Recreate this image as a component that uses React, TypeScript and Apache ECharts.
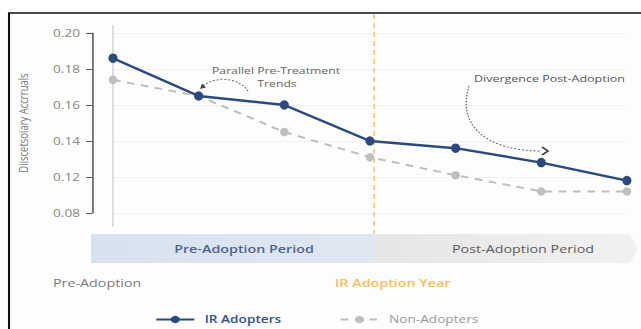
import React, { useEffect, useRef } from "react";
import * as echarts from "echarts";

// ---- data ----
const xIndex = [0, 1, 2, 3, 4, 5, 6];
const irAdopters = [0.186, 0.165, 0.16, 0.14, 0.136, 0.128, 0.118];
const nonAdopters = [0.174, 0.165, 0.145, 0.131, 0.121, 0.112, 0.112];
const yTickLabels = ["0.08", "0.12", "0.14", "0.16", "0.18", "0.20"];
const ADOPTION_X = 3.05;
const yTitle = "Diiscetsoiary Accrruals";

// horizontal stretch of the whole picture
const S = 1.3;
const W = 641 / S;
const H = 329;
const X = (px: number) => px / S;
const FONT = "'Open Sans', sans-serif";

export default function App() {
  const ref = useRef<HTMLDivElement>(null);
  useEffect(() => {
    if (!ref.current) return;
    const chart = echarts.init(ref.current, null, { renderer: "svg" });
    const option: any = {
      animation: false,
      backgroundColor: "#ffffff",
      textStyle: { fontFamily: FONT },
      grid: { left: X(113), right: W - X(627), top: 33, bottom: H - 213 },
      xAxis: {
        type: "value",
        min: 0,
        max: 6,
        show: false,
        splitLine: { show: false },
      },
      yAxis: {
        type: "value",
        min: 0.1,
        max: 0.2,
        interval: 0.02,
        offset: X(113 - 92),
        name: yTitle,
        nameLocation: "middle",
        nameGap: 48,
        nameTextStyle: { color: "#777", fontSize: 9.5, fontFamily: FONT },
        axisLine: { show: true, onZero: false, lineStyle: { color: "#555", width: 1.2 } },
        axisTick: { show: true, length: X(6), lineStyle: { color: "#555" } },
        axisLabel: {
          color: "#888",
          fontSize: 10.5,
          fontFamily: FONT,
          margin: X(12),
          formatter: (_v: number, i: number) => yTickLabels[i],
        },
        splitLine: { show: true, lineStyle: { color: "#f1f1f1", width: 1 } },
      },
      legend: {
        left: X(155),
        top: 314,
        padding: 0,
        itemWidth: X(38),
        itemHeight: 9,
        itemGap: X(58),
        data: [
          {
            name: "IR Adopters",
            textStyle: { color: "#34508a", fontWeight: 600, fontSize: 10.5, padding: [0, 0, 0, 3] },
          },
          {
            name: "Non-Adopters",
            textStyle: { color: "#9a9a9a", fontSize: 10.5, padding: [0, 0, 0, 3] },
          },
        ],
        textStyle: { fontFamily: FONT },
      },
      series: [
        {
          name: "Non-Adopters",
          type: "line",
          data: xIndex.map((x, i) => [x, nonAdopters[i]]),
          symbol: "circle",
          symbolSize: [6.5, 8.5],
          lineStyle: { color: "#bfbfbf", width: 2, type: [6, 5] },
          itemStyle: { color: "#bfbfbf" },
          z: 2,
        },
        {
          name: "IR Adopters",
          type: "line",
          data: xIndex.map((x, i) => [x, irAdopters[i]]),
          symbol: "circle",
          symbolSize: [7, 9.5],
          lineStyle: { color: "#2d4a7f", width: 2.4 },
          itemStyle: { color: "#2d4a7f" },
          z: 3,
        },
      ],
    };
    chart.setOption(option);

    const x0 = chart.convertToPixel({ gridIndex: 0 } as any, [0, 0.15])[0];
    const xa = chart.convertToPixel({ gridIndex: 0 } as any, [ADOPTION_X, 0.15])[0];
    const bandTop = 234;
    const bandBot = 263;
    const bandMid = (bandTop + bandBot) / 2;

    const txt = (text: string, x: number, y: number, style: any, align = "left") => ({
      type: "text",
      x,
      y,
      style: { text, fontFamily: FONT, align, verticalAlign: "middle", ...style },
      z: 20,
    });

    chart.setOption({
      graphic: [
        {
          type: "rect",
          shape: { x: X(9), y: 13, width: W, height: H },
          style: { fill: "#fdfdfd", stroke: "#111", lineWidth: 1.6 },
          z: -10,
          silent: true,
        },
        {
          type: "line",
          shape: { x1: x0, y1: 25, x2: x0, y2: 227 },
          style: { stroke: "#d2d2d2", lineWidth: 1.1 },
          z: 1,
        },
        {
          type: "line",
          shape: { x1: xa, y1: 14, x2: xa, y2: bandTop },
          style: { stroke: "#f4c86e", lineWidth: 1.2, lineDash: [5, 4] },
          z: 1,
        },
        {
          type: "rect",
          shape: { x: X(91), y: bandTop, width: xa - X(91), height: bandBot - bandTop },
          style: {
            fill: new echarts.graphic.LinearGradient(0, 0, 1, 0, [
              { offset: 0, color: "#d8e2ef" },
              { offset: 1, color: "#dfe7f2" },
            ]),
          },
          z: 5,
        },
        {
          type: "polygon",
          shape: {
            points: [
              [xa, bandTop],
              [X(630), bandTop],
              [X(638), bandMid],
              [X(630), bandBot],
              [xa, bandBot],
            ],
          },
          style: {
            fill: new echarts.graphic.LinearGradient(0, 0, 1, 0, [
              { offset: 0, color: "#e6e6e6" },
              { offset: 1, color: "#f1f1f1" },
            ]),
          },
          z: 5,
        },
        txt("Pre-Adoption Period", X(244), 249, { fill: "#4f6391", fontSize: 11, fontWeight: 600 }, "center"),
        txt("Post-Adoption Period", X(523), 249, { fill: "#5a5a5a", fontSize: 11, fontWeight: 500 }, "center"),
        txt("Pre-Adoption", X(53), 283, { fill: "#7a7a7a", fontSize: 11 }),
        txt("IR Adoption Year", X(335), 283, { fill: "#f3c062", fontSize: 11, fontWeight: 600 }),
        txt("Parallel Pre-Treatment", X(276), 70, { fill: "#666", fontSize: 9.4 }, "center"),
        txt("Trends", X(277), 83, { fill: "#666", fontSize: 9.4 }, "center"),
        txt("Divergence Post-Adoption", X(474), 78, { fill: "#555", fontSize: 9.6 }),
        {
          type: "bezierCurve",
          shape: {
            x1: X(248), y1: 91,
            cpx1: X(238), cpy1: 77,
            cpx2: X(215), cpy2: 76,
            x2: X(203), y2: 86,
          },
          style: { stroke: "#666", lineWidth: 1, lineDash: [1.5, 1.5], fill: null },
          z: 20,
        },
        {
          type: "polygon",
          shape: { points: [[X(200), 89], [X(202), 83.5], [X(206), 87.5]] },
          style: { fill: "#444" },
          z: 20,
        },
        {
          type: "bezierCurve",
          shape: {
            x1: X(469), y1: 86,
            cpx1: X(456), cpy1: 128,
            cpx2: X(490), cpy2: 151,
            x2: X(541), y2: 151,
          },
          style: { stroke: "#666", lineWidth: 1, lineDash: [1.5, 1.5], fill: null },
          z: 20,
        },
        {
          type: "polyline",
          shape: { points: [[X(542), 147], [X(548), 151], [X(542), 155]] },
          style: { stroke: "#333", lineWidth: 1.4, fill: null },
          z: 20,
        },
      ],
    });

    return () => chart.dispose();
  }, []);

  return (
    <div
      ref={ref}
      style={{
        position: "fixed",
        left: 0,
        top: 0,
        width: W,
        height: H,
        transform: `scaleX(${S})`,
        transformOrigin: "0 0",
      }}
    />
  );
}
